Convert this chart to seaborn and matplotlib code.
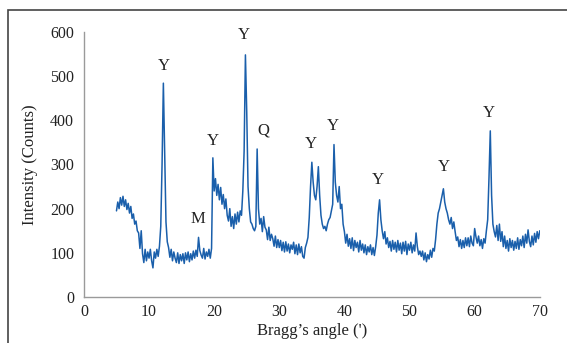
import numpy as np
import pandas as pd
import matplotlib
matplotlib.use("Agg")
import matplotlib.pyplot as plt
import seaborn as sns
from matplotlib.patches import Rectangle

# Bragg angle sampled every 0.2 degree from 5.0 to 70.0
angle_start = 5.0
angle_step = 0.2
counts = [
    195, 215, 200, 225, 208,   # 5
    228, 205, 220, 198, 212,   # 6
    190, 205, 178, 188, 165,   # 7
    172, 150, 145, 110, 150,   # 8
    98, 78, 108, 82, 102,      # 9
    88, 108, 82, 66, 102,      # 10
    88, 108, 92, 115, 160,     # 11
    300, 484, 330, 170, 125,   # 12
    112, 90, 108, 82, 102,     # 13
    88, 78, 100, 76, 96,       # 14
    82, 98, 76, 100, 84,       # 15
    102, 80, 98, 84, 104,      # 16
    88, 106, 92, 135, 105,     # 17
    95, 88, 110, 86, 102,      # 18
    92, 108, 88, 110, 315,     # 19
    240, 268, 230, 255, 220,   # 20
    248, 210, 232, 200, 222,   # 21
    185, 172, 200, 160, 182,   # 22
    155, 188, 165, 192, 170,   # 23
    195, 185, 240, 330, 548,   # 24
    420, 250, 200, 170, 165,   # 25
    155, 150, 160, 335, 200,   # 26
    165, 178, 148, 182, 158,   # 27
    152, 130, 158, 128, 142,   # 28
    132, 115, 138, 112, 130,   # 29
    112, 128, 105, 124, 102,   # 30
    125, 104, 120, 100, 118,   # 31
    108, 124, 98, 118, 96,     # 32
    120, 100, 114, 92, 88,     # 33
    112, 122, 135, 180, 250,   # 34
    305, 260, 230, 220, 250,   # 35
    295, 230, 185, 165, 155,   # 36
    160, 150, 165, 175, 180,   # 37
    195, 210, 345, 260, 230,   # 38
    215, 250, 200, 210, 165,   # 39
    148, 122, 142, 115, 132,   # 40
    110, 134, 105, 128, 112,   # 41
    124, 102, 128, 106, 120,   # 42
    100, 118, 96, 114, 102,    # 43
    118, 96, 112, 94, 114,     # 44
    140, 190, 220, 175, 150,   # 45
    132, 148, 120, 134, 112,   # 46
    126, 104, 128, 108, 124,   # 47
    102, 128, 106, 122, 98,    # 48
    124, 104, 126, 96, 120,    # 49
    106, 124, 100, 118, 104,   # 50
    145, 114, 96, 104, 92,     # 51
    104, 84, 100, 80, 96,      # 52
    86, 106, 90, 110, 104,     # 53
    130, 165, 190, 200, 215,   # 54
    230, 245, 215, 200, 190,   # 55
    175, 165, 180, 155, 170,   # 56
    148, 128, 136, 114, 130,   # 57
    110, 128, 112, 134, 116,   # 58
    134, 114, 138, 122, 116,   # 59
    155, 136, 122, 138, 116,   # 60
    130, 110, 132, 122, 150,   # 61
    175, 270, 376, 230, 165,   # 62
    148, 136, 162, 128, 165,   # 63
    126, 148, 114, 138, 110,   # 64
    128, 104, 132, 112, 128,   # 65
    106, 126, 110, 134, 108,   # 66
    130, 116, 138, 112, 142,   # 67
    122, 152, 126, 114, 138,   # 68
    118, 144, 124, 148, 132,   # 69
    150,                       # 70
]
angles = [round(angle_start + i * angle_step, 1) for i in range(len(counts))]

# Peak labels
label_text = ["Y", "M", "Y", "Y", "Q", "Y", "Y", "Y", "Y", "Y"]
label_x = [12.3, 17.5, 19.75, 24.5, 27.5, 34.85, 38.3, 45.1, 55.2, 62.2]
label_y = [523, 177, 354, 593, 378, 346, 387, 265, 294, 416]

x_ticks = [0, 10, 20, 30, 40, 50, 60, 70]
y_ticks = [0, 100, 200, 300, 400, 500, 600]

df = pd.DataFrame({"angle": angles, "counts": counts})

sns.set_style("white")
plt.rcParams["font.family"] = ["Liberation Serif", "DejaVu Serif"]

fig = plt.figure(figsize=(5.67, 3.43), dpi=100)
ax = fig.add_axes([0.148, 0.134, 0.804, 0.773])

sns.lineplot(data=df, x="angle", y="counts", ax=ax, color="#1a5fab", linewidth=1.1)

for t, xx, yy in zip(label_text, label_x, label_y):
    ax.text(xx, yy, t, ha="center", va="center", fontsize=12, color="#222222")

ax.set_xlim(0, 70)
ax.set_ylim(0, 600)
ax.set_xticks(x_ticks)
ax.set_yticks(y_ticks)
ax.tick_params(axis="y", length=0, labelsize=11.5, colors="#222222", pad=7)
ax.tick_params(axis="x", length=0, labelsize=11.5, colors="#222222", pad=5)
ax.set_xlabel("Bragg\u2019s angle (')", fontsize=12, color="#222222", labelpad=2)
ax.set_ylabel("Intensity (Counts)", fontsize=12, color="#222222", labelpad=9)
for s in ["top", "right"]:
    ax.spines[s].set_visible(False)
for s in ["left", "bottom"]:
    ax.spines[s].set_color("#9a9a9a")
    ax.spines[s].set_linewidth(1.0)

# outer frame
fig.patches.append(Rectangle((8 / 567, -0.05), 1.2, (343 - 10) / 343 + 0.05,
                             transform=fig.transFigure, fill=False,
                             edgecolor="#444444", linewidth=1.2))

fig.savefig("out.png", dpi=100)
